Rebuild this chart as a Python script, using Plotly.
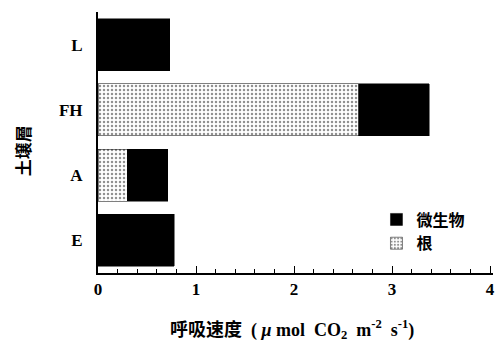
import plotly.graph_objects as go

layers = ["E", "A", "FH", "L"]
root = [0.0, 0.30, 2.66, 0.0]
microbe = [0.78, 0.41, 0.72, 0.73]
x_ticks = [0, 1, 2, 3, 4]

serif = "Liberation Serif"
cjk = "Noto Sans CJK SC"
mixed = "Liberation Serif, Noto Sans CJK SC"

x_title = ("呼吸速度&nbsp;&nbsp;(&nbsp;<i>μ</i>&nbsp;mol&nbsp;&nbsp;CO<sub>2</sub>&nbsp;&nbsp;"
           "m<sup>-2</sup>&nbsp;&nbsp;s<sup>-1</sup>)")
y_title = "土壌層"

fig = go.Figure()
fig.add_trace(go.Bar(
    y=layers, x=root, orientation="h", name="根",
    marker=dict(color="white", line=dict(color="black", width=0.5),
                pattern=dict(shape=".", fgcolor="#222", bgcolor="white",
                             size=4, solidity=0.3)),
    width=0.8, legendrank=2,
))
fig.add_trace(go.Bar(
    y=layers, x=microbe, orientation="h", name="微生物",
    marker=dict(color="black", line=dict(color="black", width=0.5)),
    width=0.8, legendrank=1,
))

fig.update_layout(
    width=501, height=342,
    barmode="stack",
    plot_bgcolor="white", paper_bgcolor="white",
    margin=dict(l=98, r=8, t=12, b=69),
    font=dict(family=serif, color="black"),
    legend=dict(x=0.705, y=0.27, xanchor="left", yanchor="top",
                bgcolor="rgba(0,0,0,0)", traceorder="normal",
                font=dict(family=cjk, size=16, color="black", weight="bold"),
                itemwidth=30, tracegroupgap=0),
    showlegend=True,
    annotations=[
        dict(text=x_title, xref="paper", yref="paper", x=0.491, y=-0.218,
             xanchor="center", yanchor="middle", showarrow=False,
             font=dict(family=mixed, size=18, weight="bold", color="black")),
        dict(text=y_title, xref="paper", yref="paper", x=-0.192, y=0.467,
             xanchor="center", yanchor="middle", showarrow=False, textangle=-90,
             font=dict(family=cjk, size=17, weight="bold", color="black")),
    ],
)
fig.update_xaxes(
    automargin=False,
    range=[0, 4.03], tickvals=x_ticks, ticktext=[str(v) for v in x_ticks],
    ticks="inside", ticklen=7, tickwidth=1.2, tickcolor="black",
    minor=dict(dtick=0.2, ticks="inside", ticklen=4, tickcolor="black", tickwidth=1),
    showline=True, linecolor="black", linewidth=2, showgrid=False, zeroline=False,
    tickfont=dict(family=serif, size=17, weight="bold"),
)
fig.update_yaxes(
    automargin=False,
    showline=True, linecolor="black", linewidth=2, showgrid=False, zeroline=False,
    ticks="", ticklabelstandoff=10,
    tickfont=dict(family=serif, size=17, weight="bold"),
)

fig.write_html("out.html", config={"displayModeBar": False},
               post_script="document.body.style.margin='0';")
